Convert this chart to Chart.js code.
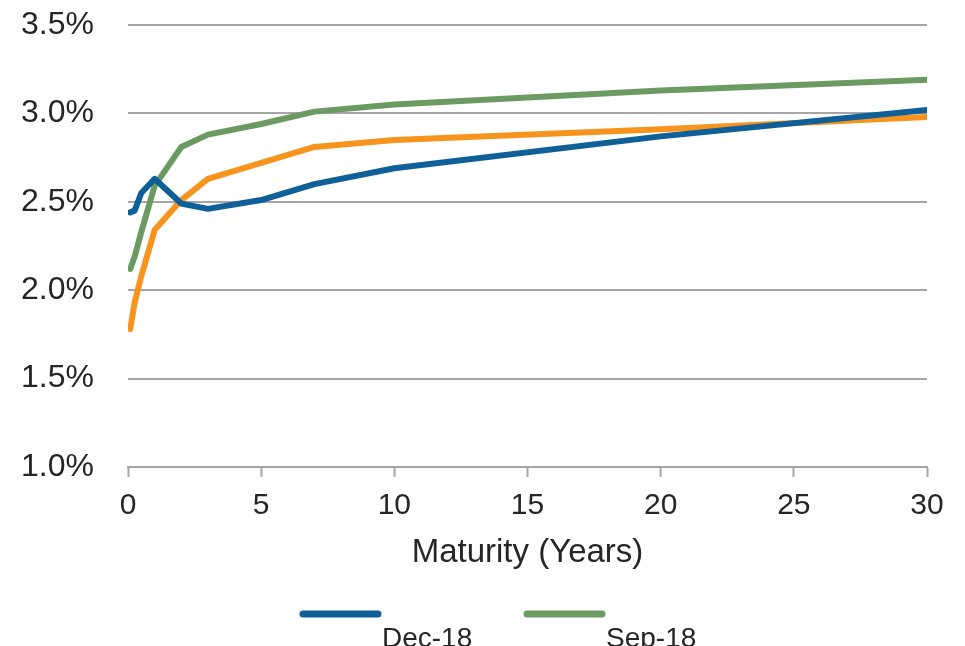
<!DOCTYPE html>
<html>
<head>
<meta charset="utf-8">
<script src="https://cdn.jsdelivr.net/npm/chart.js@4/dist/chart.umd.min.js"></script>
<style>
  html, body { margin: 0; padding: 0; background: #ffffff; }
  #wrap { width: 965px; height: 646px; position: relative; }
</style>
</head>
<body>
<div id="wrap"><canvas id="c" width="965" height="646"></canvas></div>
<script>
// Treasury yield curves: maturity in years vs. yield in percent
const maturities = [1/12, 0.25, 0.5, 1, 2, 3, 5, 7, 10, 20, 30];
const dec18 = [2.44, 2.45, 2.55, 2.63, 2.49, 2.46, 2.51, 2.60, 2.69, 2.87, 3.02];
const sep18 = [2.12, 2.19, 2.33, 2.59, 2.81, 2.88, 2.94, 3.01, 3.05, 3.13, 3.19];
const jun18 = [1.78, 1.93, 2.08, 2.34, 2.51, 2.63, 2.72, 2.81, 2.85, 2.91, 2.98];
const seriesNames = ['Dec-18', 'Sep-18', 'Jun-18'];
const xTicks = [0, 5, 10, 15, 20, 25, 30];
const yTicks = [1.0, 1.5, 2.0, 2.5, 3.0, 3.5];

const colors = ['#0f5f98', '#6b9b62', '#f7941d'];
const FONT = 'Liberation Sans, Arial, sans-serif';
const TEXT = '#262626';
const GRID = '#a6a6a6';

const toPoints = vals => maturities.map((m, i) => ({ x: m, y: vals[i] }));

// Legend drawn below the axis title: a thick line sample with its label set a little lower
const bottomLegend = {
  id: 'bottomLegend',
  afterDraw(chart) {
    const ctx = chart.ctx;
    const shown = [0, 1];
    const sample = 75, gap = 4, itemGap = 224;
    const startX = 303, lineY = 614;
    ctx.save();
    shown.forEach((idx, k) => {
      const ds = chart.data.datasets[idx];
      const x = startX + k * itemGap;
      ctx.strokeStyle = ds.borderColor;
      ctx.lineWidth = 7;
      ctx.lineCap = 'round';
      ctx.beginPath();
      ctx.moveTo(x, lineY);
      ctx.lineTo(x + sample, lineY);
      ctx.stroke();
      ctx.fillStyle = TEXT;
      ctx.font = '28px ' + FONT;
      ctx.textBaseline = 'alphabetic';
      ctx.textAlign = 'left';
      ctx.fillText(ds.label, x + sample + gap, 647);
    });
    ctx.restore();
  }
};

new Chart(document.getElementById('c'), {
  type: 'line',
  data: {
    datasets: [
      { label: seriesNames[0], data: toPoints(dec18), borderColor: colors[0] },
      { label: seriesNames[1], data: toPoints(sep18), borderColor: colors[1] },
      { label: seriesNames[2], data: toPoints(jun18), borderColor: colors[2] }
    ].map(d => Object.assign(d, {
      borderWidth: 6,
      pointRadius: 0,
      tension: 0,
      fill: false,
      borderCapStyle: 'round',
      borderJoinStyle: 'round'
    }))
  },
  options: {
    responsive: false,
    animation: false,
    layout: { padding: { top: 25, right: 38, left: 0, bottom: 71 } },
    plugins: {
      legend: { display: false },
      tooltip: { enabled: false }
    },
    scales: {
      x: {
        type: 'linear',
        min: 0,
        max: 30,
        afterBuildTicks: s => { s.ticks = xTicks.map(v => ({ value: v })); },
        afterFit: s => { s.height = 108; s.paddingLeft = 0; s.paddingRight = 0; },
        grid: {
          drawOnChartArea: false,
          drawTicks: true,
          tickLength: 10,
          tickWidth: 2,
          tickColor: GRID
        },
        border: { display: true, color: GRID, width: 2 },
        ticks: {
          color: TEXT,
          font: { family: FONT, size: 30 },
          padding: 11,
          maxRotation: 0
        },
        title: {
          display: true,
          text: 'Maturity (Years)',
          color: TEXT,
          font: { family: FONT, size: 33 },
          padding: { top: 0, bottom: 2 }
        }
      },
      y: {
        min: 1.0,
        max: 3.5,
        afterBuildTicks: s => { s.ticks = yTicks.map(v => ({ value: v })); },
        afterFit: s => { s.width = 128; s.paddingTop = 0; s.paddingBottom = 0; },
        grid: {
          color: GRID,
          lineWidth: 2,
          drawTicks: false
        },
        border: { display: false },
        ticks: {
          color: TEXT,
          font: { family: FONT, size: 32 },
          padding: 34,
          callback: v => v.toFixed(1) + '%'
        }
      }
    }
  },
  plugins: [bottomLegend]
});
</script>
</body>
</html>
